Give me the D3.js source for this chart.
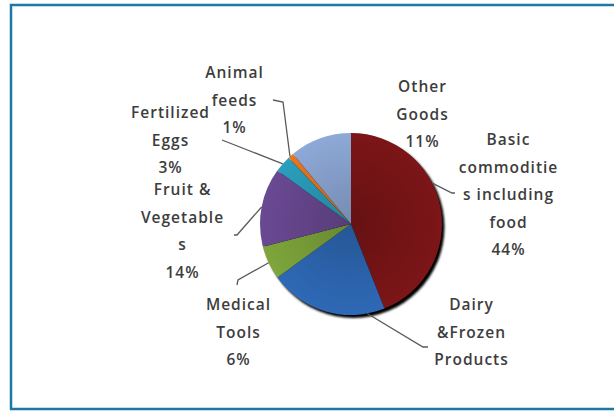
<!DOCTYPE html>
<html>
<head>
<meta charset="utf-8">
<script src="https://cdn.jsdelivr.net/npm/d3@7"></script>
<style>
  html, body { margin: 0; padding: 0; background: #fff; }
  svg text { font-family: "Open Sans", sans-serif; }
</style>
</head>
<body>
<div id="chart"></div>
<script>
// slice data, clockwise from 12 o'clock
var categories = ["Basic commodities including food", "Dairy &Frozen Products", "Medical Tools",
                  "Fruit & Vegetables", "Fertilized Eggs", "Animal feeds", "Other Goods"];
var values = [44, 21, 6, 14, 3, 1, 11];
var labelLines = [
  ["Basic", "commoditie", "s  including", "food"],
  ["Dairy", "&Frozen", "Products"],
  ["Medical", "Tools"],
  ["Fruit &", "Vegetable", "s"],
  ["Fertilized", "Eggs"],
  ["Animal", "feeds"],
  ["Other", "Goods"]
];
var showPct = [true, false, true, true, true, true, true];
var colors = ["#7c1517", "#2e69b6", "#7ea63b", "#6a4993", "#2a9fbe", "#e8761f", "#8ea9d7"];

var W = 614, H = 412;
var cx = 351, cy = 224, R = 91;

// label layout (relative to pie centre): text anchor of first line, and leader bends
var labelLayout = [
  {x: 157, y: -84, leader: [[101, -31], [104, -31]], at: 0.4},
  {x: 120, y: 81,  leader: [[72, 123], [77, 123]], at: 0.15},
  {x: -113, y: 81, leader: [[-113, 56], [-114, 61]], at: 0.5},
  {x: -169, y: -34, leader: [[-114, 11], [-117, 11]], at: 0.5},
  {x: -181, y: -111, leader: [[-129, -84]], at: 0.5},
  {x: -117, y: -151, leader: [[-68, -122], [-78, -124]], at: 0.3},
  {x: 71, y: -137, leader: null, at: 0.5}
];
var lineH = 27.5;

var svg = d3.select("#chart").append("svg")
  .attr("width", W)
  .attr("height", H);

var defs = svg.append("defs");
var shade = defs.append("radialGradient").attr("id", "shade")
  .attr("cx", "50%").attr("cy", "50%").attr("r", "50%");
shade.append("stop").attr("offset", "0%").attr("stop-color", "#000").attr("stop-opacity", 0.18);
shade.append("stop").attr("offset", "100%").attr("stop-color", "#000").attr("stop-opacity", 0);
defs.append("filter").attr("id", "blur")
  .append("feGaussianBlur").attr("stdDeviation", 0.8);

// frame
svg.append("rect")
  .attr("x", 11).attr("y", 5)
  .attr("width", W + 10).attr("height", 404)
  .attr("fill", "none")
  .attr("stroke", "#1d78a3")
  .attr("stroke-width", 2.5);

var g = svg.append("g").attr("transform", "translate(" + cx + "," + cy + ")");

var pie = d3.pie().sort(null).value(function(d) { return d; });
var arcs = pie(values);
var arc = d3.arc().innerRadius(0).outerRadius(R);

// shadow
g.append("circle")
  .attr("cx", 2.5).attr("cy", 3)
  .attr("r", R)
  .attr("fill", "#000")
  .attr("filter", "url(#blur)");

g.selectAll("path.slice")
  .data(arcs)
  .enter().append("path")
  .attr("class", "slice")
  .attr("d", arc)
  .attr("fill", function(d, i) { return colors[i]; });

g.append("circle").attr("r", R).attr("fill", "url(#shade)");

// leaders
arcs.forEach(function(d, i) {
  var lay = labelLayout[i];
  if (!lay.leader) return;
  var a = d.startAngle + (d.endAngle - d.startAngle) * lay.at;
  var pts = [[Math.sin(a) * R, -Math.cos(a) * R]].concat(lay.leader);
  g.append("path")
    .attr("d", d3.line()(pts))
    .attr("fill", "none")
    .attr("stroke", "#595959")
    .attr("stroke-width", 1.3);
});

// labels
arcs.forEach(function(d, i) {
  var lay = labelLayout[i];
  var lines = labelLines[i].slice();
  if (showPct[i]) lines.push(d3.format(".0%")(values[i] / d3.sum(values)));
  var t = g.append("text")
    .attr("text-anchor", "middle")
    .attr("fill", "#3d3d3d")
    .attr("font-size", "15.5px")
    .attr("font-weight", 600)
    .attr("letter-spacing", "1px");
  lines.forEach(function(s, k) {
    t.append("tspan")
      .attr("x", lay.x + 0.5)
      .attr("y", lay.y + k * lineH)
      .attr("dy", "0.35em")
      .text(s);
  });
});
</script>
</body>
</html>
